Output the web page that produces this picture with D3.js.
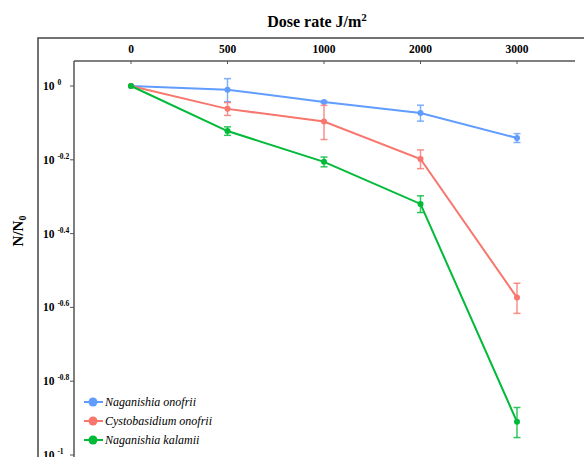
<!DOCTYPE html>
<html>
<head>
<meta charset="utf-8">
<script src="https://cdn.jsdelivr.net/npm/d3@7"></script>
<style>
  body { margin: 0; background: #fff; }
</style>
</head>
<body>
<div id="chart"></div>
<script>
// data (N/N0, linear values; sd = error bar half length)
const doses = ["0", "500", "1000", "2000", "3000"];
const seriesNames = ["Naganishia onofrii", "Cystobasidium onofrii", "Naganishia kalamii"];
const colors = ["#619CFF", "#F8766D", "#00BA38"];
const onofriiVals = [1.0, 0.977, 0.905, 0.845, 0.723];
const onofriiSd = [0, 0.07, 0.004, 0.042, 0.02];
const cystoVals = [1.0, 0.867, 0.801, 0.634, 0.267];
const cystoSd = [0, 0.035, 0.085, 0.037, 0.025];
const kalamiiVals = [1.0, 0.755, 0.623, 0.479, 0.123];
const kalamiiSd = [0, 0.02, 0.019, 0.025, 0.0115];
const yTickExp = [0, -0.2, -0.4, -0.6, -0.8, -1];

const width = 584, height = 457;
const serif = "'Times New Roman', 'Liberation Serif', Times, serif";

const svg = d3.select("#chart").append("svg")
  .attr("width", width)
  .attr("height", height)
  .style("font-family", serif);

const series = [
  { name: seriesNames[0], vals: onofriiVals, sd: onofriiSd, color: colors[0] },
  { name: seriesNames[1], vals: cystoVals, sd: cystoSd, color: colors[1] },
  { name: seriesNames[2], vals: kalamiiVals, sd: kalamiiSd, color: colors[2] }
];

const x = d3.scalePoint().domain(doses).range([131, 517]);
const y = d3.scaleLog().domain([0.1, 1]).range([455, 86]);

// outer frame
svg.append("rect")
  .attr("x", 38).attr("y", 38)
  .attr("width", 600).attr("height", 500)
  .attr("fill", "none")
  .attr("stroke", "#444").attr("stroke-width", 1.5);

// title
svg.append("text")
  .attr("x", 317).attr("y", 27)
  .attr("text-anchor", "middle")
  .attr("font-size", 16).attr("font-weight", "bold")
  .text("Dose rate J/m")
  .append("tspan").attr("font-size", 11).attr("dy", -6).text("2");

// y label
const yl = svg.append("text")
  .attr("transform", "translate(23,231) rotate(-90)")
  .attr("text-anchor", "middle")
  .attr("font-size", 15).attr("font-weight", "bold");
yl.append("tspan").text("N/N");
yl.append("tspan").attr("font-size", 10).attr("dy", 3).text("0");

// top axis
svg.append("line")
  .attr("x1", 74).attr("x2", 575).attr("y1", 61).attr("y2", 61)
  .attr("stroke", "#555").attr("stroke-width", 1.5);
doses.forEach(d => {
  svg.append("line")
    .attr("x1", x(d)).attr("x2", x(d)).attr("y1", 61).attr("y2", 64)
    .attr("stroke", "#555").attr("stroke-width", 1);
  svg.append("text")
    .attr("x", x(d)).attr("y", 53)
    .attr("text-anchor", "middle")
    .attr("font-size", 11.5).attr("font-weight", "bold")
    .text(d);
});

// left axis
svg.append("line")
  .attr("x1", 74).attr("x2", 74).attr("y1", 61).attr("y2", 460)
  .attr("stroke", "#555").attr("stroke-width", 1.5);
yTickExp.forEach(e => {
  const yy = y(Math.pow(10, e));
  svg.append("line")
    .attr("x1", 70).attr("x2", 74).attr("y1", yy).attr("y2", yy)
    .attr("stroke", "#555").attr("stroke-width", 1);
  const t = svg.append("text")
    .attr("x", 43).attr("y", yy + 4)
    .attr("font-size", 11.5).attr("font-weight", "bold");
  t.append("tspan").text("10 ");
  t.append("tspan").attr("font-size", 7.5).attr("dy", -5)
    .text(e === 0 ? "0" : (e === -1 ? "-1" : "-" + Math.abs(e)));
});

const line = d3.line()
  .x((v, i) => x(doses[i]))
  .y(v => y(v));

series.forEach(s => {
  const g = svg.append("g");
  // error bars
  s.vals.forEach((v, i) => {
    if (s.sd[i] <= 0) return;
    const cx = x(doses[i]);
    const y1 = y(v + s.sd[i]), y2 = y(v - s.sd[i]);
    g.append("line").attr("x1", cx).attr("x2", cx).attr("y1", y1).attr("y2", y2)
      .attr("stroke", s.color).attr("stroke-width", 1.5).attr("opacity", 0.8);
    [y1, y2].forEach(yy => {
      g.append("line").attr("x1", cx - 3.5).attr("x2", cx + 3.5).attr("y1", yy).attr("y2", yy)
        .attr("stroke", s.color).attr("stroke-width", 1.5).attr("opacity", 0.8);
    });
  });
  g.append("path")
    .attr("d", line(s.vals))
    .attr("fill", "none")
    .attr("stroke", s.color).attr("stroke-width", 2);
  g.selectAll("circle").data(s.vals).enter().append("circle")
    .attr("cx", (v, i) => x(doses[i]))
    .attr("cy", v => y(v))
    .attr("r", 3)
    .attr("fill", s.color);
});

// legend
series.forEach((s, i) => {
  const ly = 402 + i * 19;
  svg.append("line").attr("x1", 84).attr("x2", 103).attr("y1", ly).attr("y2", ly)
    .attr("stroke", s.color).attr("stroke-width", 2);
  svg.append("circle").attr("cx", 93).attr("cy", ly).attr("r", 4.5).attr("fill", s.color);
  svg.append("text")
    .attr("x", 105).attr("y", ly + 4)
    .attr("font-size", 12).attr("font-style", "italic")
    .text(s.name);
});
</script>
</body>
</html>
